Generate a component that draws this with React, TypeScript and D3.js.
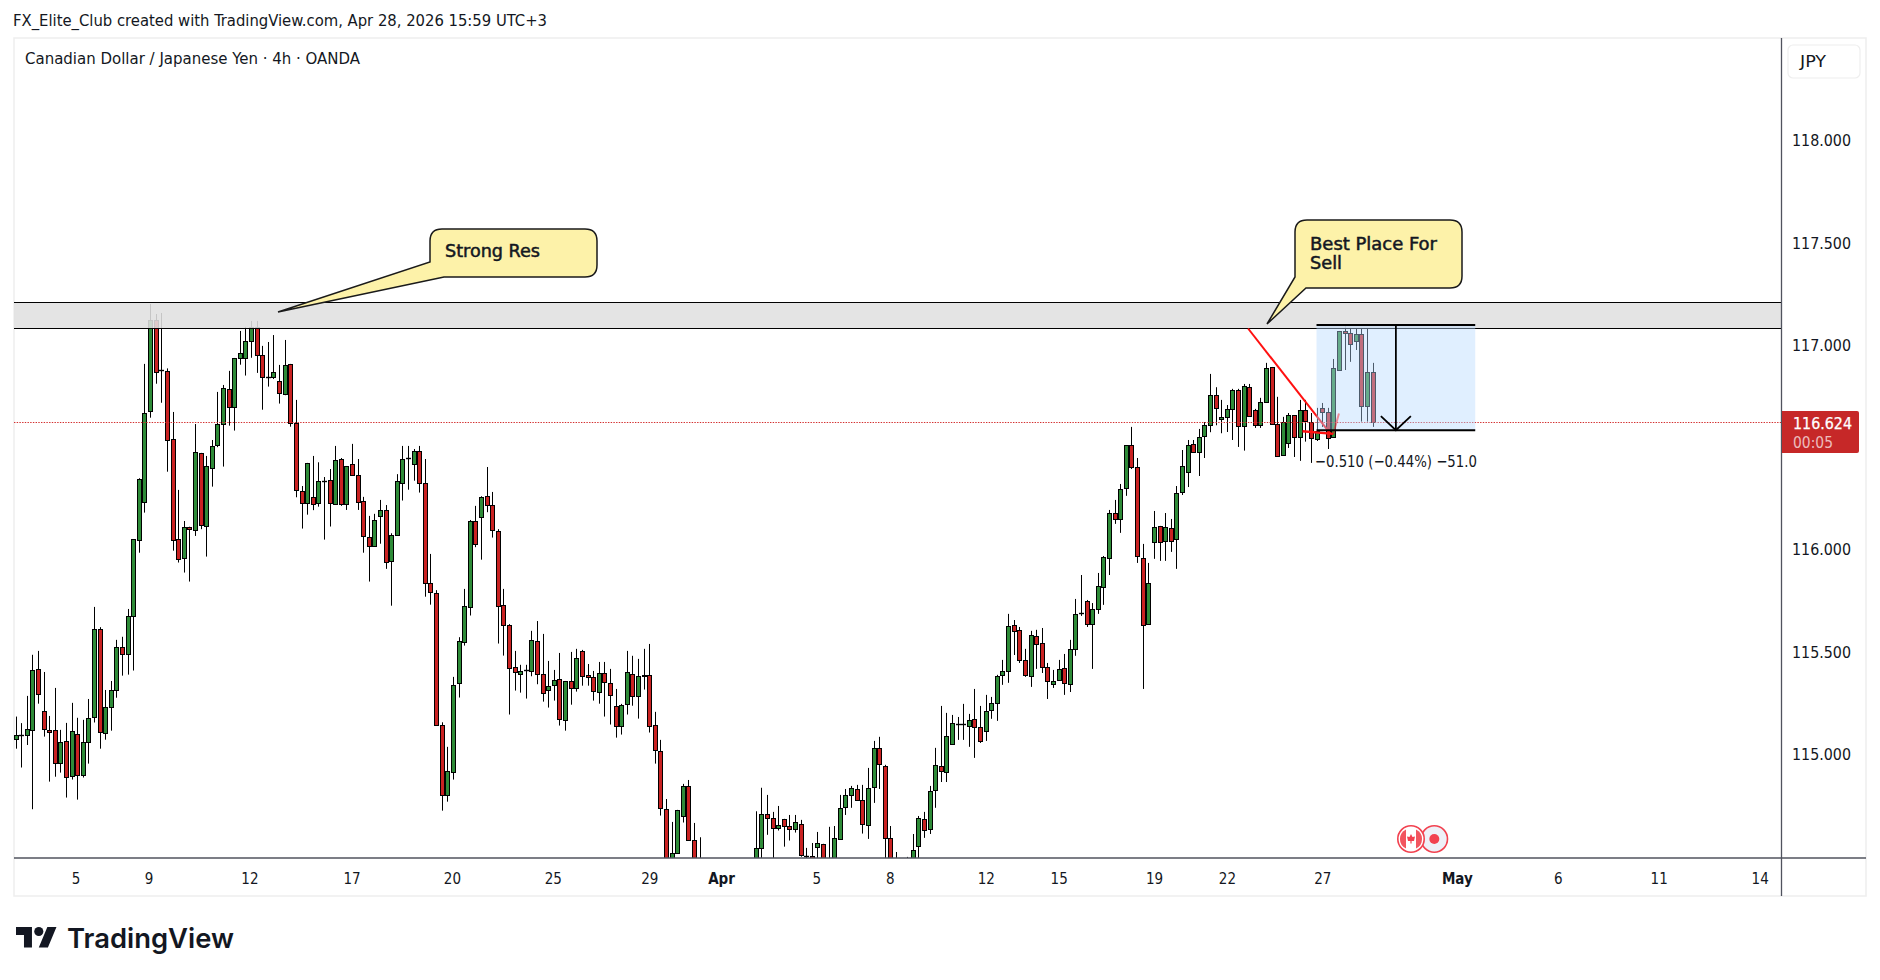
import React from "react";
import * as d3 from "d3";

// [open, high, low, close]
const marchCandles: number[][] = [
[115.072,115.183,115.026,115.094],[115.094,115.151,114.934,115.094],[115.091,115.284,115.044,115.121],[115.116,115.485,114.730,115.410],[115.415,115.504,115.246,115.292],[115.209,115.401,115.085,115.121],[115.116,115.186,114.865,115.107],[115.116,115.323,114.889,114.955],[114.955,115.118,114.909,115.058],[115.063,115.152,114.787,114.887],
[114.892,115.250,114.875,115.111],[115.097,115.177,114.777,114.897],[114.897,115.167,114.885,115.058],[115.058,115.269,114.953,115.175],[115.180,115.719,115.154,115.610],[115.610,115.620,115.026,115.107],[115.102,115.313,115.070,115.229],[115.229,115.357,115.114,115.312],[115.312,115.558,115.275,115.522],[115.522,115.573,115.383,115.488],
[115.488,115.709,115.388,115.674],[115.674,116.050,115.408,116.050],[116.045,116.348,115.984,116.343],[116.231,116.907,116.180,116.666],[116.675,117.200,116.644,117.120],[117.120,117.151,116.810,116.866],[116.875,117.156,116.717,116.875],[116.871,116.885,116.380,116.534],[116.539,116.672,115.994,116.045],[116.050,116.291,115.936,115.952],
[115.957,116.139,115.887,116.108],[116.108,116.111,115.843,116.099],[116.094,116.613,116.066,116.475],[116.470,116.472,116.099,116.118],[116.113,116.457,115.965,116.407],[116.397,116.535,116.307,116.504],[116.509,116.770,116.500,116.612],[116.612,116.804,116.405,116.788],[116.783,116.873,116.605,116.695],[116.695,116.936,116.581,116.935],
[116.935,117.068,116.903,116.959],[116.935,117.088,116.850,117.018],[117.018,117.117,116.937,117.086],[117.086,117.117,116.863,116.949],[116.949,116.995,116.683,116.842],[116.842,117.014,116.796,116.842],[116.842,117.048,116.833,116.866],[116.822,116.902,116.713,116.764],[116.759,117.024,116.754,116.900],[116.905,116.907,116.600,116.617],
[116.617,116.731,116.255,116.289],[116.285,116.310,116.102,116.226],[116.226,116.423,116.170,116.421],[116.255,116.457,116.192,116.221],[116.226,116.426,116.209,116.333],[116.333,116.354,116.048,116.333],[116.338,116.393,116.112,116.226],[116.221,116.506,116.218,116.436],[116.441,116.447,116.213,116.221],[116.221,116.408,116.193,116.407],
[116.416,116.516,116.363,116.363],[116.363,116.442,116.193,116.231],[116.236,116.257,115.984,116.065],[116.060,116.164,115.843,116.016],[116.016,116.174,116.016,116.143],[116.162,116.242,116.028,116.192],[116.192,116.217,115.905,115.937],[115.942,116.079,115.725,116.069],[116.069,116.368,116.069,116.333],[116.324,116.506,116.239,116.441],
[116.446,116.506,116.292,116.446],[116.416,116.491,116.336,116.480],[116.480,116.506,116.278,116.324],[116.324,116.442,115.769,115.835],[115.835,115.978,115.730,115.791],[115.786,115.801,115.141,115.141],[115.141,115.155,114.723,114.799],[114.799,115.035,114.767,114.916],[114.911,115.377,114.875,115.336],[115.346,115.571,115.276,115.551],
[115.546,115.807,115.530,115.722],[115.718,116.144,115.677,116.138],[116.138,116.213,116.011,116.025],[116.157,116.260,115.950,116.255],[116.260,116.403,116.182,116.216],[116.216,116.281,116.058,116.094],[116.089,116.099,115.540,115.722],[115.727,115.807,115.481,115.630],[115.630,115.635,115.193,115.419],[115.424,115.504,115.310,115.400],
[115.390,115.436,115.300,115.405],[115.410,115.436,115.271,115.410],[115.405,115.602,115.380,115.556],[115.551,115.650,115.341,115.390],[115.390,115.587,115.256,115.297],[115.312,115.455,115.227,115.331],[115.336,115.411,115.261,115.361],[115.366,115.494,115.139,115.170],[115.165,115.357,115.114,115.356],[115.356,115.499,115.241,115.322],
[115.322,115.514,115.305,115.468],[115.502,115.509,115.334,115.380],[115.385,115.440,115.334,115.376],[115.376,115.406,115.261,115.307],[115.302,115.450,115.246,115.395],[115.395,115.450,115.183,115.351],[115.346,115.416,115.144,115.287],[115.234,115.318,115.080,115.136],[115.136,115.245,115.095,115.239],[115.243,115.504,115.193,115.400],
[115.390,115.480,115.236,115.282],[115.282,115.465,115.173,115.380],[115.388,115.514,115.315,115.383],[115.385,115.538,115.105,115.136],[115.141,115.206,114.953,115.019],[115.014,115.069,114.699,114.735],[114.730,114.780,114.384,114.433],[114.384,114.668,114.311,114.515],[114.515,114.727,114.515,114.725],[114.696,114.854,114.665,114.843],
[114.843,114.873,114.579,114.579],[114.579,114.663,114.360,114.409],[114.460,114.593,114.300,114.340],[114.340,114.420,114.210,114.250],[114.250,114.340,114.170,114.220],[114.220,114.330,114.160,114.300],
];
const aprilCandles: number[][] = [
[114.300,114.400,114.250,114.360],[114.360,114.440,114.280,114.310],[114.310,114.380,114.220,114.260],[114.260,114.330,114.190,114.300],[114.300,114.410,114.240,114.370],[114.370,114.460,114.300,114.430],[114.433,114.720,114.384,114.539],[114.539,114.835,114.473,114.706],[114.706,114.800,114.605,114.686],[114.686,114.717,114.473,114.637],
[114.637,114.746,114.626,114.652],[114.681,114.683,114.547,114.647],[114.647,114.702,114.577,114.632],[114.632,114.702,114.616,114.666],[114.657,114.678,114.498,114.505],[114.503,114.541,114.473,114.501],[114.500,114.565,114.433,114.458],[114.544,114.619,114.473,114.564],[114.559,114.561,114.384,114.433],[114.384,114.644,114.340,114.458],
[114.458,114.648,114.409,114.588],[114.583,114.800,114.583,114.735],[114.740,114.829,114.702,114.799],[114.799,114.844,114.737,114.833],[114.828,114.849,114.774,114.774],[114.774,114.849,114.611,114.657],[114.652,114.932,114.585,114.833],[114.838,115.064,114.761,115.028],[115.028,115.084,114.829,114.950],[114.940,114.947,114.473,114.588],
[114.588,114.648,114.384,114.409],[114.409,114.521,114.280,114.350],[114.350,114.420,114.240,114.290],[114.290,114.497,114.230,114.400],[114.433,114.609,114.384,114.530],[114.549,114.697,114.482,114.686],[114.681,114.717,114.590,114.628],[114.633,114.844,114.609,114.819],[114.823,115.030,114.737,114.945],[114.940,115.235,114.863,114.916],
[114.911,115.201,114.863,115.087],[115.048,115.191,115.048,115.150],[115.147,115.181,115.069,115.147],[115.146,115.245,115.069,115.146],[115.136,115.196,115.035,115.165],[115.170,115.318,114.981,115.131],[115.131,115.235,115.054,115.063],[115.111,115.289,115.064,115.209],[115.214,115.279,115.172,115.248],[115.248,115.387,115.162,115.380],
[115.385,115.460,115.338,115.405],[115.405,115.685,115.348,115.625],[115.630,115.655,115.484,115.600],[115.605,115.621,115.445,115.458],[115.458,115.514,115.377,115.385],[115.380,115.602,115.328,115.581],[115.576,115.607,115.416,115.537],[115.541,115.616,115.396,115.424],[115.424,115.445,115.269,115.356],[115.341,115.411,115.323,115.356],
[115.361,115.460,115.361,115.415],[115.419,115.489,115.289,115.346],[115.341,115.558,115.303,115.512],[115.512,115.758,115.480,115.683],[115.690,115.875,115.675,115.690],[115.747,115.753,115.621,115.635],[115.635,115.738,115.416,115.708],[115.708,115.885,115.685,115.820],[115.815,115.968,115.729,115.962],[115.957,116.193,115.875,116.177],
[116.177,116.242,116.125,116.148],[116.148,116.320,116.081,116.294],[116.299,116.509,116.262,116.509],[116.509,116.599,116.393,116.402],[116.402,116.447,115.934,115.967],[115.957,116.027,115.318,115.630],[115.635,115.934,115.635,115.835],[116.035,116.188,115.954,116.108],[116.113,116.115,115.944,116.035],[116.040,116.178,115.944,116.108],
[116.104,116.149,115.988,116.040],[116.050,116.310,115.905,116.275],[116.280,116.486,116.266,116.407],[116.377,116.535,116.305,116.509],[116.514,116.535,116.475,116.475],[116.475,116.589,116.359,116.548],[116.553,116.623,116.447,116.607],[116.607,116.858,116.573,116.754],[116.754,116.793,116.607,116.690],[116.636,116.731,116.568,116.646],
[116.646,116.706,116.574,116.685],[116.685,116.785,116.535,116.778],[116.778,116.785,116.501,116.602],[116.602,116.809,116.483,116.798],[116.793,116.809,116.648,116.651],[116.680,116.687,116.594,116.607],[116.607,116.741,116.594,116.720],[116.720,116.912,116.716,116.886],[116.891,116.892,116.609,116.612],[116.612,116.746,116.456,116.456],
[116.461,116.648,116.461,116.622],[116.519,116.667,116.496,116.656],[116.656,116.657,116.452,116.548],[116.548,116.731,116.433,116.680],[116.680,116.731,116.527,116.627],[116.622,116.667,116.423,116.544],[116.539,116.692,116.530,116.578],[116.690,116.716,116.599,116.671],[116.671,116.692,116.491,116.544],[116.549,116.931,116.549,116.886],
[116.876,117.068,116.873,117.067],[117.067,117.092,116.877,117.057],[117.057,117.083,116.917,117.003],[117.018,117.083,116.975,117.052],[117.052,117.083,116.625,116.700],[116.700,117.083,116.625,116.866],[116.866,116.912,116.599,116.624],
];
const priceTicks = [118, 117.5, 117, 116, 115.5, 115];
const timeLabels = ["5","9","12","17","20","25","29","Apr","5","8","12","15","19","22","27","May","6","11","14"];
const timeLabelBars = [10.7,23.7,41.7,59.9,77.8,95.8,113,125.8,142.8,155.9,173,186,203,216,233,257,275,293,311];
const boldLabels = ["Apr", "May"];
const lastPrice = 116.624;
const resistanceBand = [117.205, 117.08];
const measureBox = { fromBar: 232.0, toBar: 260.3, top: 117.097, bottom: 116.583 };
const trendLine = [[219.8, 117.08], [234.5, 116.565]];
const arrowBarb = [[229.5, 116.578], [235, 116.565]];
const arrowReturn = [[235, 116.565], [236, 116.665]];

const FONT = "'DejaVu Sans', Verdana, sans-serif";
const COND = { fontFamily: FONT, fontStretch: "condensed" as const };
const SEMI = { ...COND, stroke: "#131722", strokeWidth: 0.45 };
const GREEN = "#2e8b38";
const RED = "#c92222";
const AXIS = "#50535e";

const L = 14, R = 1781.5, T = 38, B = 858;

const y = d3.scaleLinear().domain([118, 115]).range([140.3, 754]);
const x = d3.scaleLinear().domain([0, 242]).range([15.5, 1372.6]);

const candles = [...marchCandles, ...aprilCandles];
const crisp = (v: number) => Math.floor(v) + 0.5;

function Candle({ c, i }: { c: number[]; i: number }) {
  const [o, h, l, cl] = c;
  const left = Math.round(x(i) - 2);
  const top = Math.round(y(Math.max(o, cl))) + 0.5;
  const bot = Math.round(y(Math.min(o, cl))) + 0.5;
  const up = cl >= o;
  const wx = left + 2.5;
  if (Math.abs(o - cl) < 0.003) {
    return (
      <g stroke="#000" strokeWidth={1}>
        <line x1={wx} x2={wx} y1={y(h)} y2={y(l)} />
        <line x1={left} x2={left + 5} y1={top} y2={top} strokeWidth={1.4} />
      </g>
    );
  }
  return (
    <g stroke="#000" strokeWidth={1}>
      <line x1={wx} x2={wx} y1={y(h)} y2={y(l)} />
      <rect x={left + 0.5} y={top} width={4} height={Math.max(1, bot - top)} fill={up ? GREEN : RED} />
    </g>
  );
}

export default function App() {
  const bx0 = x(measureBox.fromBar), bx1 = x(measureBox.toBar);
  const by0 = y(measureBox.top), by1 = y(measureBox.bottom);
  const midX = (bx0 + bx1) / 2;
  const bandTop = crisp(y(resistanceBand[0])), bandBot = crisp(y(resistanceBand[1]));
  const lastY = crisp(y(lastPrice)) + 1;
  const line = d3.line<number[]>().x((d) => x(d[0])).y((d) => y(d[1]));
  return (
    <svg width={1880} height={980} style={{ position: "absolute", left: 0, top: 0, background: "#fff" }}>
      <defs>
        <clipPath id="pane"><rect x={L} y={T} width={R - L} height={B - T} /></clipPath>
      </defs>
      <text x={13} y={26} fontSize={16} fill="#131722" style={COND} textLength={534} lengthAdjust="spacingAndGlyphs">FX_Elite_Club created with TradingView.com, Apr 28, 2026 15:59 UTC+3</text>

      <rect x={14} y={38} width={1852} height={858} fill="none" stroke="#eeeeee" strokeWidth={1.5} />
      <text x={25} y={64} fontSize={16} fill="#131722" style={COND} textLength={335} lengthAdjust="spacingAndGlyphs">Canadian Dollar / Japanese Yen · 4h · OANDA</text>

      <g clipPath="url(#pane)">
        {candles.map((c, i) => <Candle key={i} c={c} i={i} />)}
        <line x1={L} x2={R} y1={lastY} y2={lastY} stroke="#d32f2f" strokeWidth={1} strokeDasharray="1.4 1.3" />
        <rect x={L} y={bandTop} width={R - L} height={bandBot - bandTop} fill="#e0e0e0" fillOpacity={0.88} />
        <line x1={L} x2={R} y1={bandTop} y2={bandTop} stroke="#000" strokeWidth={1} />
        <line x1={L} x2={R} y1={bandBot} y2={bandBot} stroke="#000" strokeWidth={1} />

        <path d={line(trendLine) || ""} fill="none" stroke="#ff1010" strokeWidth={2} />
        <path d={line(arrowBarb) || ""} fill="none" stroke="#ff1010" strokeWidth={2.4} />

        <rect x={bx0} y={by0} width={bx1 - bx0} height={by1 - by0} fill="rgb(182,216,255)" fillOpacity={0.42} />
        <path d={line(arrowReturn) || ""} fill="none" stroke="#ff1010" strokeOpacity={0.45} strokeWidth={2} />
        <line x1={bx0} x2={bx1} y1={by0} y2={by0} stroke="#000" strokeWidth={2} />
        <line x1={bx0} x2={bx1} y1={by1} y2={by1} stroke="#000" strokeWidth={2} />
        <line x1={midX} x2={midX} y1={by0} y2={by1} stroke="#000" strokeWidth={1.8} />
        <path d={`M${midX - 15},${by1 - 14} L${midX},${by1} L${midX + 15},${by1 - 14}`} fill="none" stroke="#000" strokeWidth={1.8} />
      </g>

      <text x={midX} y={466.5} fontSize={16} textAnchor="middle" fill="#131722" style={COND} textLength={162} lengthAdjust="spacingAndGlyphs">−0.510 (−0.44%) −51.0</text>

      {/* callouts */}
      <path d="M442,229 H585 Q597,229 597,241 V265 Q597,277 585,277 H444 L278,312 L430,262 V241 Q430,229 442,229 Z" fill="#fdf2a9" stroke="#1a1a1a" strokeWidth={1.5} />
      <text x={445} y={257} fontSize={17} fill="#131722" style={SEMI} textLength={95} lengthAdjust="spacingAndGlyphs">Strong Res</text>
      <path d="M1307,220 H1450 Q1462,220 1462,232 V276 Q1462,288 1450,288 H1306 L1267,324 L1295,277 V232 Q1295,220 1307,220 Z" fill="#fdf2a9" stroke="#1a1a1a" strokeWidth={1.5} />
      <text x={1310} y={250} fontSize={17} fill="#131722" style={SEMI} textLength={127} lengthAdjust="spacingAndGlyphs">Best Place For</text>
      <text x={1310} y={269} fontSize={17} fill="#131722" style={SEMI} textLength={32} lengthAdjust="spacingAndGlyphs">Sell</text>

      {/* axes */}
      <line x1={R} x2={R} y1={T} y2={896} stroke={AXIS} strokeWidth={1.3} />
      <line x1={L} x2={1866} y1={B} y2={B} stroke={AXIS} strokeWidth={1.3} />

      {priceTicks.map((p) => (
        <text key={p} x={1792} y={y(p) + 6} fontSize={15} fill="#131722" style={COND} textLength={59} lengthAdjust="spacingAndGlyphs">{p.toFixed(3)}</text>
      ))}
      {timeLabels.map((t, i) => (
        <text key={i} x={x(timeLabelBars[i]) + 0.6} y={884} fontSize={15} textAnchor="middle" fontWeight={boldLabels.includes(t) ? 700 : 400} fill="#131722" style={COND}>{t}</text>
      ))}

      <rect x={1788} y={45} width={72} height={33} rx={5} fill="#fff" stroke="#eeeeee" strokeWidth={1.2} />
      <text x={1813} y={66.5} fontSize={16} textAnchor="middle" fill="#131722" style={COND} textLength={26} lengthAdjust="spacingAndGlyphs">JPY</text>

      <path d="M1782,411 H1857 Q1859,411 1859,413 V451 Q1859,453 1857,453 H1782 Z" fill="#c62828" />
      <text x={1793} y={429} fontSize={15} fill="#fff" stroke="#fff" strokeWidth={0.25} style={COND} textLength={59} lengthAdjust="spacingAndGlyphs">{lastPrice.toFixed(3)}</text>
      <text x={1793} y={448} fontSize={15} fill="#fff" fillOpacity={0.7} style={COND} textLength={40} lengthAdjust="spacingAndGlyphs">00:05</text>

      {/* currency flags */}
      <g>
        <circle cx={1434.3} cy={839} r={13.2} fill="#eef0f7" stroke="#f2414f" strokeWidth={1.6} />
        <circle cx={1434.3} cy={839} r={5} fill="#f2414f" />
        <circle cx={1411} cy={839} r={13.2} fill="#fff" stroke="#f2414f" strokeWidth={1.6} />
        <path d="M1406,829.5 A10.5,10.5 0 0 0 1406,848.5 Z" fill="#f2555f" />
        <path d="M1416,829.5 A10.5,10.5 0 0 1 1416,848.5 Z" fill="#f2555f" />
        <path d="M1411,834 L1412.5,837 L1415,836.5 L1414,841 L1411.6,841 L1411.6,843.5 L1410.4,843.5 L1410.4,841 L1408,841 L1407,836.5 L1409.5,837 Z" fill="#f2414f" />
      </g>

      {/* logo */}
      <g transform="translate(16,922.4) scale(1.14)" fill="#131722">
        <path d="M14 22H7V11H0V4h14v18zM28 22h-8l7.5-18h8L28 22z" />
        <circle cx={20} cy={8} r={4} />
      </g>
      <text x={67} y={948} fontSize={27.5} fontWeight={600} fill="#131722" fontFamily="Inter, Lato, sans-serif" textLength={167} lengthAdjust="spacingAndGlyphs">TradingView</text>
    </svg>
  );
}
